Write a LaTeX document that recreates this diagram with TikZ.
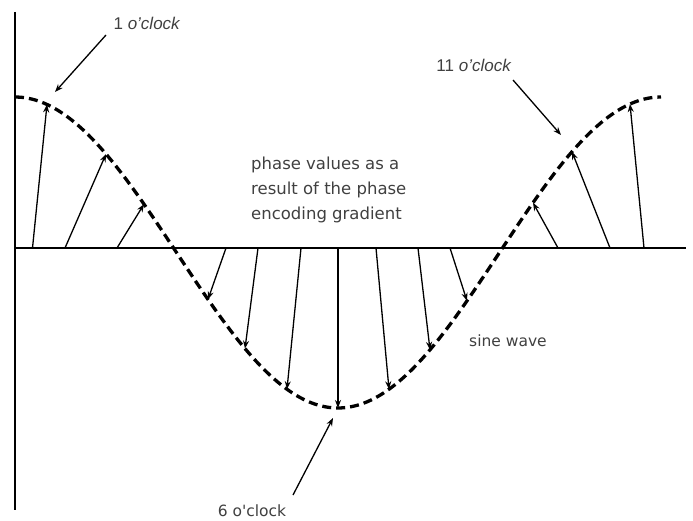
\documentclass[tikz,border=0pt]{standalone}
\usepackage{fontspec}
\setmainfont{Liberation Sans}
\newfontfamily\handfont{DejaVu Sans}
\usepackage{tikz}
\usetikzlibrary{
  positioning,
  arrows.meta
}

\begin{document}
\begin{tikzpicture}[
  x=1pt, y=-1pt,
  axis/.style={
    line width=1.4pt,
    draw=black
  },
  wave/.style={
    line width=3.3pt,
    dash pattern=on 9pt off 5pt,
    draw=black
  },
  phasor/.style={
    -{Stealth[length=8pt,width=6pt]},
    line width=1.3pt,
    draw=black
  },
  callout/.style={
    -{Stealth[length=8pt,width=6pt]},
    line width=1.3pt,
    draw=black
  },
  clocklabel/.style={
    text=black!75,
    font=\fontsize{17}{20}\selectfont,
    inner sep=0pt
  },
  handlabel/.style={
    text=black!75,
    font=\handfont\fontsize{15.5}{25}\selectfont,
    inner sep=0pt,
    align=left
  }
]

\useasboundingbox (0,0) rectangle (693,521);

% Axes
\coordinate (vtop) at (15,12);
\coordinate (vbot) at (15,510);
\coordinate (hleft) at (15,248);
\coordinate (hright) at (686,248);
\draw[axis] (vtop) -- (vbot);
\draw[axis] (hleft) -- (hright);

% Dashed wave (one full period)
\draw[wave] plot[domain=15:661, samples=120, smooth]
  (\x, {252.5-155.5*cos((\x-15)/323*180)});

% Phase arrows: base on the axis, tip on the wave
\foreach \i/\bx/\tx in {1/32.5/47, 2/65/106, 3/117/144,
                        4/226/208, 5/258/245, 6/301/287, 7/338/338,
                        8/376/389, 9/418/430, 10/450/467,
                        11/558/533, 12/610/572, 13/644/630} {
  \coordinate (b\i) at (\bx,248);
  \coordinate (t\i) at (\tx, {252.5-155.5*cos((\tx-15)/323*180)});
  \draw[phasor] (b\i) -- (t\i);
}

% Labels
\node[clocklabel] (one) at (147,23) {1 \textit{o'clock}};
\node[clocklabel] (eleven) at (474,65) {11 \textit{o'clock}};
\node[handlabel] (six) at (252,511) {6 o'clock};
\node[handlabel, anchor=north west, font=\handfont\fontsize{16.5}{25}\selectfont]
  (phase) at (251,157)
  {phase values as a\\result of the phase\\encoding gradient};
\node[handlabel] (sine) at (508,341) {sine wave};

% Callout arrows
\coordinate (oneS) at (106,35);
\coordinate (oneE) at (55,92);
\coordinate (elevenS) at (513,80);
\coordinate (elevenE) at (561,135);
\coordinate (sixS) at (293,495);
\coordinate (sixE) at (333,418);
\draw[callout] (oneS) -- (oneE);
\draw[callout] (elevenS) -- (elevenE);
\draw[callout] (sixS) -- (sixE);

\end{tikzpicture}
\end{document}
